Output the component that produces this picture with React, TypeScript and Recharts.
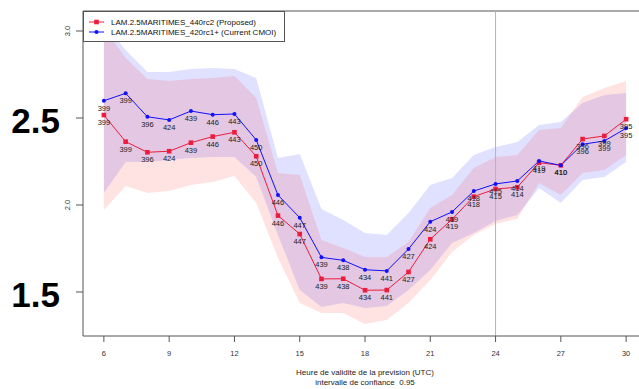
import React from "react";
import {
  ComposedChart,
  Line,
  Area,
  XAxis,
  YAxis,
  ReferenceLine,
  LabelList,
} from "recharts";

// ---- data ----
const hours = [6, 7, 8, 9, 10, 11, 12, 13, 14, 15, 16, 17, 18, 19, 20, 21, 22, 23, 24, 25, 26, 27, 28, 29, 30];

const series420 = [2.599, 2.642, 2.507, 2.489, 2.54, 2.519, 2.523, 2.374, 2.057, 1.927, 1.699, 1.682, 1.628, 1.621, 1.747, 1.904, 1.96, 2.08, 2.121, 2.138, 2.253, 2.228, 2.349, 2.368, 2.441];
const series440 = [2.517, 2.364, 2.303, 2.309, 2.358, 2.393, 2.418, 2.28, 1.939, 1.833, 1.575, 1.576, 1.51, 1.511, 1.615, 1.803, 1.918, 2.048, 2.092, 2.102, 2.243, 2.228, 2.379, 2.397, 2.493];

const upper420 = [3.046, 2.891, 2.764, 2.764, 2.782, 2.787, 2.782, 2.73, 2.27, 2.293, 1.977, 1.914, 1.839, 1.828, 1.954, 2.115, 2.155, 2.287, 2.333, 2.362, 2.46, 2.477, 2.586, 2.632, 2.644];
const lower420 = [2.069, 2.247, 2.247, 2.259, 2.27, 2.276, 2.276, 2.161, 1.828, 1.511, 1.414, 1.437, 1.408, 1.42, 1.511, 1.626, 1.782, 1.839, 1.908, 1.943, 2.098, 2.011, 2.144, 2.161, 2.247];
const upper440 = [3.017, 2.845, 2.724, 2.713, 2.724, 2.73, 2.741, 2.615, 2.184, 2.172, 1.799, 1.753, 1.701, 1.701, 1.787, 1.983, 2.057, 2.213, 2.276, 2.287, 2.431, 2.443, 2.621, 2.672, 2.713];
const lower440 = [1.971, 2.109, 2.069, 2.08, 2.115, 2.132, 2.167, 2.011, 1.695, 1.437, 1.379, 1.379, 1.316, 1.339, 1.437, 1.569, 1.73, 1.828, 1.891, 1.92, 2.126, 2.057, 2.184, 2.201, 2.287];

const counts420 = [399, 399, 396, 424, 439, 446, 443, 450, 446, 447, 439, 438, 434, 441, 427, 424, 419, 418, 415, 414, 419, 410, 396, 399, 395];
const counts440 = [399, 399, 396, 424, 439, 446, 443, 450, 446, 447, 439, 438, 434, 441, 427, 424, 419, 418, 415, 414, 419, 410, 396, 399, 395];

const xTicks = [6, 9, 12, 15, 18, 21, 24, 27, 30];
const yTicks = [1.5, 2.0, 2.5, 3.0];
const bigYTicks = [1.5, 2.5];
const xDomain: [number, number] = [5.04, 30.96];
const yDomain: [number, number] = [1.247, 3.115];
const markerHour = 24;

const legend440 = "LAM.2.5MARITIMES_440rc2 (Proposed)";
const legend420 = "LAM.2.5MARITIMES_420rc1+ (Current CMOI)";
const xTitle1 = "Heure de validite de la prevision (UTC)";
const xTitle2 = "intervalle de confiance  0.95";

const rows = hours.map((h, i) => ({
  hour: h,
  b: series420[i],
  r: series440[i],
  bBand: [lower420[i], upper420[i]],
  rBand: [lower440[i], upper440[i]],
  nb: counts420[i],
  nr: counts440[i],
}));

const FONT = "'Liberation Sans', Arial, Helvetica, sans-serif";
const RED = "#ee1c3c";
const BLUE = "#1010ff";
const AXIS = "#555";

const RedDot = (p: any) => {
  if (p.cx == null || p.cy == null) return null;
  return <rect key={`r${p.index}`} x={p.cx - 2.3} y={p.cy - 2.3} width={4.6} height={4.6} fill={RED} />;
};
const BlueDot = (p: any) => {
  if (p.cx == null || p.cy == null) return null;
  return <circle key={`b${p.index}`} cx={p.cx} cy={p.cy} r={2} fill={BLUE} />;
};

const CountLabel = (p: any) => {
  const { x, y, value } = p;
  if (x == null || y == null) return null;
  return (
    <text
      x={x}
      y={y + 7.5}
      textAnchor="middle"
      dominantBaseline="central"
      fontFamily={FONT}
      fontSize={7.5}
      fill="#222"
    >
      {value}
    </text>
  );
};

const XTick = (p: any) => {
  const { x, y, payload } = p;
  return (
    <text x={x} y={y + 9} textAnchor="middle" dominantBaseline="central" fontFamily={FONT} fontSize={7.5} fill="#333">
      {payload.value}
    </text>
  );
};

const YTick = (p: any) => {
  const { x, y, payload } = p;
  const v = payload.value;
  if (bigYTicks.includes(v)) {
    return (
      <text x={x - 14} y={y + 3} textAnchor="end" dominantBaseline="central" fontFamily={FONT} fontWeight="bold" fontSize={35} fill="#000">
        {v.toFixed(1)}
      </text>
    );
  }
  return (
    <text
      x={x - 6}
      y={y}
      textAnchor="middle"
      dominantBaseline="central"
      fontFamily={FONT}
      fontSize={7.5}
      fill="#333"
      transform={`rotate(-90 ${x - 6} ${y})`}
    >
      {v.toFixed(1)}
    </text>
  );
};

const LegendRow = ({ color, square, text }: { color: string; square: boolean; text: string }) => (
  <div style={{ display: "flex", alignItems: "center", height: 10 }}>
    <svg width={22} height={10} style={{ display: "block" }}>
      <line x1={3} y1={5} x2={18} y2={5} stroke={color} strokeWidth={1} />
      {square ? (
        <rect x={8.2} y={2.7} width={4.6} height={4.6} fill={color} />
      ) : (
        <circle cx={10.5} cy={5} r={2} fill={color} />
      )}
    </svg>
    <span style={{ marginLeft: 3, whiteSpace: "nowrap" }}>{text}</span>
  </div>
);

export default function App() {
  return (
    <div style={{ position: "absolute", left: 0, top: 0, width: 639, height: 389, overflow: "hidden", background: "#fff" }}>
      <ComposedChart
        width={660}
        height={389}
        data={rows}
        margin={{ top: 11, right: 13, bottom: 23, left: 0 }}
      >
        <XAxis
          dataKey="hour"
          type="number"
          domain={xDomain}
          ticks={xTicks}
          height={30}
          tickSize={6}
          axisLine={{ stroke: AXIS }}
          tickLine={{ stroke: AXIS }}
          tick={<XTick />}
          interval={0}
        />
        <YAxis
          type="number"
          domain={yDomain}
          ticks={yTicks}
          width={83}
          tickSize={7}
          tickMargin={2}
          axisLine={{ stroke: AXIS }}
          tickLine={{ stroke: AXIS }}
          tick={<YTick />}
          interval={0}
        />
        <ReferenceLine y={yDomain[1]} stroke={AXIS} strokeWidth={1} />
        <Area
          type="linear"
          dataKey={(d: any) => d.bBand}
          stroke="none"
          fill="#0000ff"
          fillOpacity={0.12}
          isAnimationActive={false}
          activeDot={false}
        />
        <Area
          type="linear"
          dataKey={(d: any) => d.rBand}
          stroke="none"
          fill="#ff0000"
          fillOpacity={0.11}
          isAnimationActive={false}
          activeDot={false}
        />
        <ReferenceLine x={markerHour} stroke="#b4b4b4" strokeWidth={1} />
        <Line
          type="linear"
          dataKey="r"
          stroke={RED}
          strokeWidth={1}
          dot={RedDot}
          activeDot={false}
          isAnimationActive={false}
        >
          <LabelList dataKey="nr" content={CountLabel} />
        </Line>
        <Line
          type="linear"
          dataKey="b"
          stroke={BLUE}
          strokeWidth={1}
          dot={BlueDot}
          activeDot={false}
          isAnimationActive={false}
        >
          <LabelList dataKey="nb" content={CountLabel} />
        </Line>
      </ComposedChart>

      <div
        style={{
          position: "absolute",
          left: 83,
          top: 11,
          width: 202,
          height: 31,
          boxSizing: "border-box",
          border: `1px solid ${AXIS}`,
          background: "#fff",
          fontFamily: FONT,
          fontSize: 8,
          color: "#111",
          padding: "5px 0 0 2px",
        }}
      >
        <LegendRow color={RED} square text={legend440} />
        <LegendRow color={BLUE} square={false} text={legend420} />
      </div>

      <div
        style={{
          position: "absolute",
          left: 83,
          width: 564,
          top: 368,
          textAlign: "center",
          fontFamily: FONT,
          fontSize: 8,
          lineHeight: "10px",
          color: "#222",
          whiteSpace: "pre",
        }}
      >
        <div>{xTitle1}</div>
        <div>{xTitle2}</div>
      </div>
    </div>
  );
}
